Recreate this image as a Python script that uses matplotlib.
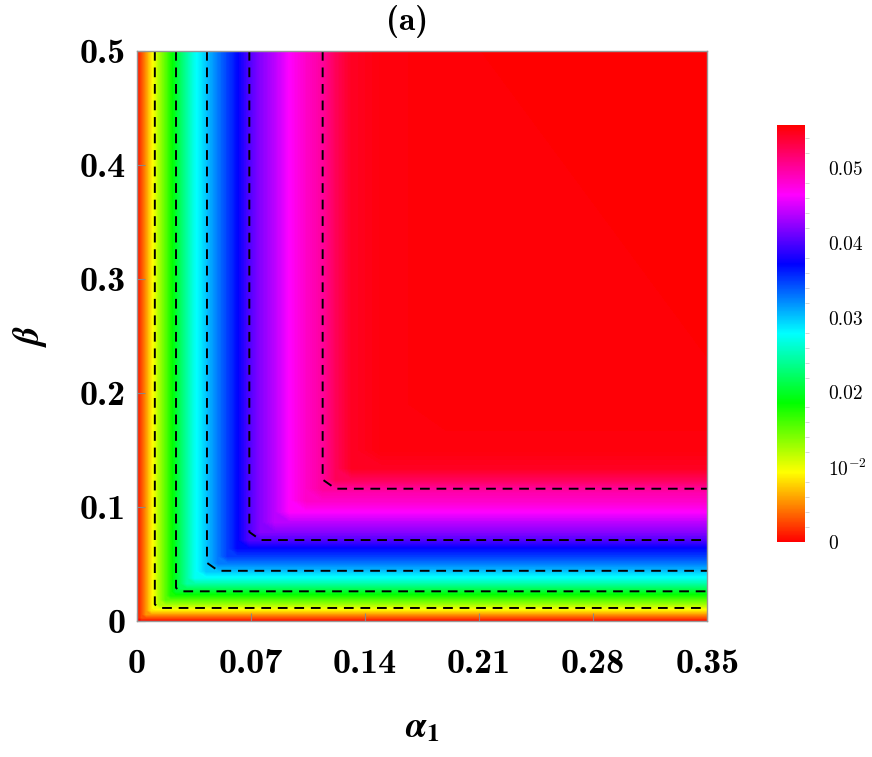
import matplotlib.pyplot as plt
import numpy as np
from matplotlib.cm import ScalarMappable
from matplotlib.colors import Normalize, LinearSegmentedColormap

plt.rcParams['mathtext.fontset'] = 'cm'

# profile of the quantity along alpha_1
alpha_nodes = [0, 0.003, 0.006, 0.009, 0.011, 0.014, 0.018, 0.021, 0.024, 0.027, 0.031, 0.036,
               0.043, 0.05, 0.056, 0.062, 0.069, 0.076, 0.085, 0.094, 0.104, 0.114, 0.122,
               0.132, 0.15, 0.19, 0.35]
alpha_vals = [0, 0.0028, 0.0055, 0.0085, 0.010, 0.0125, 0.0155, 0.0178, 0.020, 0.022, 0.0245, 0.0275,
              0.030, 0.0328, 0.035, 0.037, 0.040, 0.042, 0.044, 0.0465, 0.0485, 0.050, 0.0525,
              0.0545, 0.0553, 0.0556, 0.0557]
# same along beta
beta_nodes = [0, 0.003, 0.006, 0.0095, 0.0114, 0.0145, 0.019, 0.0225, 0.026, 0.029, 0.033, 0.038,
              0.044, 0.051, 0.057, 0.064, 0.071, 0.078, 0.087, 0.096, 0.106, 0.116, 0.124,
              0.134, 0.15, 0.19, 0.5]
beta_vals = [0, 0.0028, 0.0055, 0.0085, 0.010, 0.0125, 0.0155, 0.0178, 0.020, 0.022, 0.0245, 0.0275,
             0.030, 0.0328, 0.035, 0.037, 0.040, 0.042, 0.044, 0.0465, 0.0485, 0.050, 0.0525,
             0.0545, 0.0553, 0.0556, 0.0557]

levels = [0.01, 0.02, 0.03, 0.04, 0.05]
xticks = [0, 0.07, 0.14, 0.21, 0.28, 0.35]
yticks = [0, 0.1, 0.2, 0.3, 0.4, 0.5]
cbar_ticks = [0, 0.01, 0.02, 0.03, 0.04, 0.05]
cbar_labels = ['0', r'$10^{-2}$', '0.02', '0.03', '0.04', '0.05']
vmax = 0.0558

# hsv-like wheel that starts and ends on pure red
cmap = LinearSegmentedColormap.from_list(
    'wheel', ['#ff0000', '#ffff00', '#00ff00', '#00ffff', '#0000ff', '#ff00ff', '#ff0000'], N=512)

A, B = np.meshgrid(alpha_nodes, beta_nodes)
Z = np.minimum.outer(np.array(beta_vals), np.array(alpha_vals))

fig = plt.figure(figsize=(8.72, 7.57), dpi=100)
ax = fig.add_axes([0.157, 0.1797, 0.654, 0.753])

ax.contourf(A, B, Z, levels=np.linspace(0, vmax, 300), cmap=cmap, vmin=0, vmax=vmax, antialiased=False)
ax.contour(A, B, Z, levels=levels, colors='black', linewidths=1.4, linestyles=[(0, (5, 3.5))])

ax.set_xlim(0, 0.35)
ax.set_ylim(0, 0.5)
ax.set_xticks(xticks)
ax.set_yticks(yticks)
ax.set_xticklabels(['%g' % v for v in xticks], fontsize=26, family='cmb10')
ax.set_yticklabels(['%g' % v for v in yticks], fontsize=26, family='cmb10')
ax.tick_params(axis='x', direction='in', length=6, color='#888888', pad=20)
ax.tick_params(axis='y', direction='in', length=6, color='#888888', pad=8)
for s in ax.spines.values():
    s.set_color('#999999')
    s.set_linewidth(1.0)

ax.set_xlabel(r'$\boldsymbol{\alpha}_{\mathbf{1}}$', fontsize=26, labelpad=22, math_fontfamily='stix')
ax.set_ylabel(r'$\boldsymbol{\beta}$', fontsize=26, labelpad=22, math_fontfamily='stix')
fig.text(0.467, 0.972, '(a)', fontsize=24, family='cmb10', ha='center', va='center')

cax = fig.add_axes([0.891, 0.284, 0.032, 0.551])
sm = ScalarMappable(norm=Normalize(0, vmax), cmap=cmap)
cb = fig.colorbar(sm, cax=cax)
cb.outline.set_visible(False)
cb.set_ticks(cbar_ticks)
cb.set_ticklabels(cbar_labels, fontsize=14, family='cmr10')
cax.set_yticks(np.arange(0.002, 0.0557, 0.002), minor=True)
cax.tick_params(which='major', length=0, pad=17)
cax.tick_params(which='minor', length=3, color='#cccccc')

fig.savefig('out.png', dpi=100)
